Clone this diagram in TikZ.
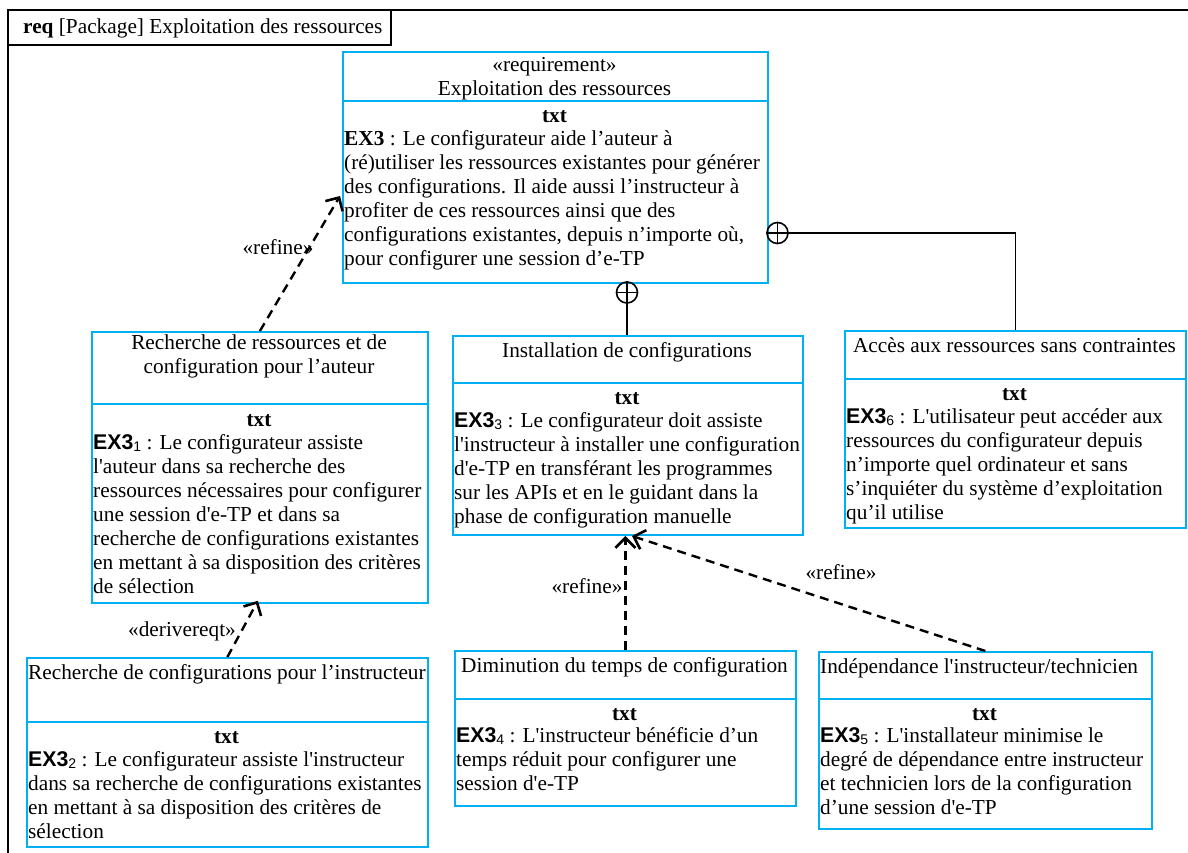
\documentclass[tikz,border=0pt]{standalone}
\usepackage{fontspec}
\setmainfont{Liberation Serif}[Ligatures=TeXOff]
\newfontfamily\sansf{Liberation Sans}[Ligatures=TeXOff]
\usetikzlibrary{arrows.meta}
\definecolor{reqblue}{RGB}{0,176,240}
\newcommand\EXn[1]{{\sansf\bfseries EX3}{\sansf\fontsize{14}{14}\selectfont\raisebox{-2.5pt}{#1}}}
\tikzset{
  reqbox/.style={draw=reqblue, line width=1.8pt, anchor=north west, inner sep=0pt},
  divline/.style={draw=reqblue, line width=1.8pt},
  tl/.style={inner sep=0pt, font=\fontsize{21.3}{24}\selectfont, execute at begin node=\strut},
  tlL/.style={tl, anchor=north west, align=left},
  tlC/.style={tl, anchor=north, align=center},
  deparrow/.style={draw=black, line width=2.4pt, dash pattern=on 9pt off 6pt,
    -{Straight Barb[length=10pt, width=20pt, line width=2.6pt]}},
  contline/.style={draw=black, line width=1.8pt},
  contcirc/.style={circle, draw=black, line width=1.6pt, minimum size=21pt, inner sep=0pt},
  frameline/.style={draw=black, line width=1.8pt}
}
\begin{document}
\begin{tikzpicture}[x=1pt, y=-1pt]
\useasboundingbox (0,0) rectangle (1188,852);
\clip (0,0) rectangle (1188,852);
% outer frame and tab
\draw[frameline] (8,10) rectangle (1210,880);
\draw[frameline] (8,10) rectangle (391,45);
\node[tlL] (tab) at (23,16.2) {\textbf{req} [Package] Exploitation des ressources};

% main requirement
\node[reqbox, minimum width=425pt, minimum height=231pt] (m) at (342,51) {};
\draw[divline] (342,101) -- (767,101);
\node[tlC] (mt) at (554.5,57.2) {«requirement»\\Exploitation des ressources};
\node[tlC] (mx) at (554.5,105.2) {\textbf{txt}};
\node[tlL] (mb) at (344,130.2) {\textbf{EX3} : Le configurateur aide l’auteur à\\
(ré)utiliser les ressources existantes pour générer\\
des configurations. Il aide aussi l’instructeur à\\
profiter de ces ressources ainsi que des\\
configurations existantes, depuis n’importe où,\\
pour configurer une session d’e-TP};

% b2 : auteur
\node[reqbox, minimum width=336pt, minimum height=271pt] (b2) at (91,331) {};
\draw[divline] (91,404) -- (427,404);
\node[tlC] (b2t) at (259,334.2) {Recherche de ressources et de\\configuration pour l’auteur};
\node[tlC] (b2x) at (259,409.2) {\textbf{txt}};
\node[tlL] (b2b) at (93,434.2) {\EXn{1} : Le configurateur assiste\\
l'auteur dans sa recherche des\\
ressources nécessaires pour configurer\\
une session d'e-TP et dans sa\\
recherche de configurations existantes\\
en mettant à sa disposition des critères\\
de sélection};

% b3 : installation
\node[reqbox, minimum width=350pt, minimum height=199pt] (b3) at (452,335) {};
\draw[divline] (452,383) -- (802,383);
\node[tlC] (b3t) at (627,340.2) {Installation de configurations};
\node[tlC] (b3x) at (627,387.2) {\textbf{txt}};
\node[tlL] (b3b) at (454,412.2) {\EXn{3} : Le configurateur doit assiste\\
l'instructeur à installer une configuration\\
d'e-TP en transférant les programmes\\
sur les APIs et en le guidant dans la\\
phase de configuration manuelle};

% b4 : acces
\node[reqbox, minimum width=341pt, minimum height=197pt] (b4) at (844,330) {};
\draw[divline] (844,379) -- (1185,379);
\node[tlC] (b4t) at (1014.5,335.2) {Accès aux ressources sans contraintes};
\node[tlC] (b4x) at (1014.5,383.2) {\textbf{txt}};
\node[tlL] (b4b) at (846,408.2) {\EXn{6} : L'utilisateur peut accéder aux\\
ressources du configurateur depuis\\
n’importe quel ordinateur et sans\\
s’inquiéter du système d’exploitation\\
qu’il utilise};

% b5 : instructeur
\node[reqbox, minimum width=401pt, minimum height=189pt] (b5) at (26,657) {};
\draw[divline] (26,722) -- (427,722);
\node[tlL] (b5t) at (28,662.2) {Recherche de configurations pour l’instructeur};
\node[tlC] (b5x) at (226.5,726.2) {\textbf{txt}};
\node[tlL] (b5b) at (28,751.2) {\EXn{2} : Le configurateur assiste l'instructeur\\
dans sa recherche de configurations existantes\\
en mettant à sa disposition des critères de\\
sélection};

% b6 : diminution
\node[reqbox, minimum width=341pt, minimum height=155pt] (b6) at (454,650) {};
\draw[divline] (454,699) -- (795,699);
\node[tlC] (b6t) at (624.5,655.2) {Diminution du temps de configuration};
\node[tlC] (b6x) at (624.5,703.2) {\textbf{txt}};
\node[tlL] (b6b) at (456,727.2) {\EXn{4} : L'instructeur bénéficie d’un\\
temps réduit pour configurer une\\
session d'e-TP};

% b7 : independance
\node[reqbox, minimum width=333pt, minimum height=177pt] (b7) at (818,651) {};
\draw[divline] (818,699) -- (1151,699);
\node[tlL] (b7t) at (820,656.2) {Indépendance l'instructeur/technicien};
\node[tlC] (b7x) at (984.5,703.2) {\textbf{txt}};
\node[tlL] (b7b) at (820,727.2) {\EXn{5} : L'installateur minimise le\\
degré de dépendance entre instructeur\\
et technicien lors de la configuration\\
d’une session d'e-TP};

% containment
\node[contcirc] (c1) at (627,292.5) {};
\draw[contline] (c1.north) -- (c1.south) (c1.west) -- (c1.east);
\draw[contline] (c1.south) -- (b3.north -| c1.south);
\node[contcirc] (c2) at (777.5,233) {};
\draw[contline] (c2.north) -- (c2.south) (c2.west) -- (c2.east);
\draw[contline] (c2.east) -| (b4.north);

% dependencies
\coordinate (r1e) at (340,196);
\draw[deparrow] (b2.north) -- (r1e);
\node[tlC] (l1) at (278,237.2) {«refine»};
\draw[deparrow] (b5.north) -- ([xshift=-2pt,yshift=3pt]b2.south);
\node[tlC] (l2) at (182,619.2) {«derivereqt»};
\draw[deparrow] (b6.north) -- (b6.north |- 0,536);
\node[tlC] (l3) at (587,576.2) {«refine»};
\draw[deparrow] (b7.north) -- (632,536);
\node[tlC] (l4) at (841,562.2) {«refine»};
\end{tikzpicture}
\end{document}
